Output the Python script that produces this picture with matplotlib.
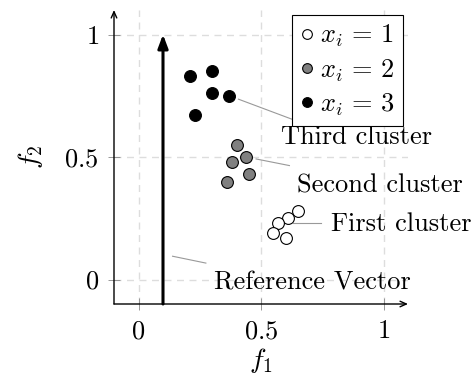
import matplotlib
matplotlib.use("Agg")
import matplotlib.pyplot as plt
from matplotlib.lines import Line2D

plt.rcParams['mathtext.fontset'] = 'cm'
plt.rcParams['font.family'] = 'cmr10'
plt.rcParams['axes.formatter.use_mathtext'] = True

# cluster points (f1, f2)
first_f1 = [0.65, 0.61, 0.57, 0.55, 0.60]
first_f2 = [0.28, 0.25, 0.23, 0.19, 0.17]
second_f1 = [0.40, 0.44, 0.38, 0.45, 0.36]
second_f2 = [0.55, 0.50, 0.48, 0.43, 0.40]
third_f1 = [0.21, 0.30, 0.30, 0.37, 0.23]
third_f2 = [0.83, 0.85, 0.76, 0.75, 0.67]

ref_x = 0.1
ref_y = [-0.1, 1.0]

ticks = [0, 0.5, 1]
tick_labels = ['$0$', '$0.5$', '$1$']
legend_labels = [r'$x_i\,=\,1$', r'$x_i\,=\,2$', r'$x_i\,=\,3$']

# callouts: label, line start, line end, text position
callouts = [
    ('Third cluster', (0.408, 0.736), (0.627, 0.654), (0.58, 0.58)),
    ('Second cluster', (0.48, 0.492), (0.616, 0.465), (0.645, 0.385)),
    ('First cluster', (0.629, 0.23), (0.745, 0.23), (0.785, 0.228)),
    ('Reference Vector', (0.139, 0.095), (0.275, 0.067), (0.31, -0.012)),
]

fs = 19

fig = plt.figure(figsize=(4.76, 3.76), dpi=100)
ax = fig.add_axes([114/476, 1 - 304/376, 294/476, 294/376])
ax.set_xlim(-0.1, 1.1)
ax.set_ylim(-0.1, 1.1)

for s in ax.spines.values():
    s.set_visible(False)
ax.annotate('', xy=(1.0, 0), xytext=(0, 0), xycoords='axes fraction',
            arrowprops=dict(arrowstyle='->,head_length=0.45,head_width=0.2', lw=1, color='black',
                            shrinkA=0, shrinkB=0))
ax.annotate('', xy=(0, 1.0), xytext=(0, 0), xycoords='axes fraction',
            arrowprops=dict(arrowstyle='->,head_length=0.45,head_width=0.2', lw=1, color='black',
                            shrinkA=0, shrinkB=0))

ax.set_xticks(ticks)
ax.set_yticks(ticks)
ax.set_xticklabels(tick_labels, fontsize=fs)
ax.set_yticklabels(tick_labels, fontsize=fs)
ax.tick_params(direction='inout', length=8, width=0.6, color='#888888', pad=7)
ax.grid(True, ls=(0, (5, 4)), color='#dddddd', lw=1)
ax.set_axisbelow(True)

ax.set_xlabel('$f_1$', fontsize=fs + 1, labelpad=2.5)
ax.set_ylabel('$f_2$', fontsize=fs + 1, labelpad=14)

# reference vector
ax.annotate('', xy=(ref_x, ref_y[1]), xytext=(ref_x, ref_y[0]),
            arrowprops=dict(arrowstyle='-|>,head_length=0.8,head_width=0.3', lw=2.2, color='black',
                            shrinkA=0, shrinkB=0))

ms = 8.5
ax.plot(first_f1, first_f2, 'o', ms=ms, mfc='white', mec='black', mew=0.8, ls='none')
ax.plot(second_f1, second_f2, 'o', ms=ms, mfc='#808080', mec='black', mew=0.8, ls='none')
ax.plot(third_f1, third_f2, 'o', ms=ms, mfc='black', mec='black', mew=0.8, ls='none')

for label, p0, p1, pt in callouts:
    ax.plot([p0[0], p1[0]], [p0[1], p1[1]], color='#999999', lw=0.8)
    ax.text(pt[0], pt[1], label, fontsize=fs, ha='left', va='center')

handles = [
    Line2D([], [], marker='o', ls='none', ms=7, mfc='white', mec='black', mew=0.8),
    Line2D([], [], marker='o', ls='none', ms=7, mfc='#808080', mec='black', mew=0.8),
    Line2D([], [], marker='o', ls='none', ms=7, mfc='black', mec='black', mew=0.8),
]
leg = ax.legend(handles, legend_labels, loc='upper right',
                bbox_to_anchor=(0.982, 0.983), fontsize=fs, fancybox=False, framealpha=1,
                edgecolor='black', handlelength=0.5, handletextpad=0.25, borderpad=0.3,
                labelspacing=0.3, borderaxespad=0)
leg.get_frame().set_linewidth(0.8)

fig.savefig('out.png', dpi=100)
